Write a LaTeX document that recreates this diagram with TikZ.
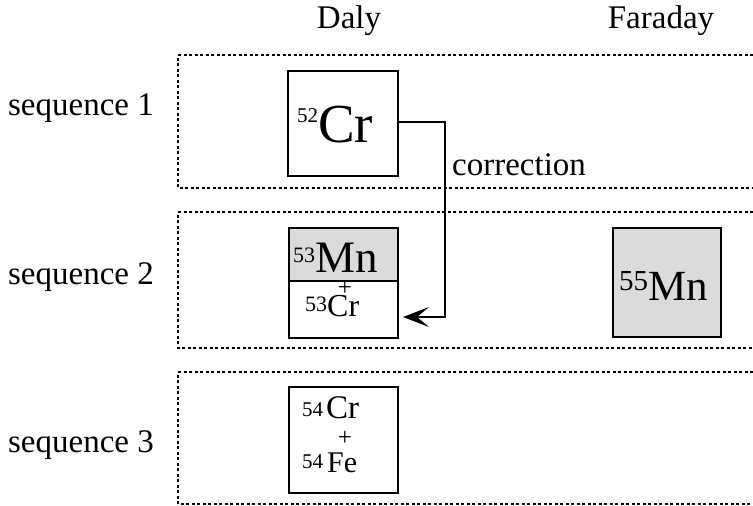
\documentclass[tikz,border=0pt]{standalone}
\usepackage{fontspec}
\setmainfont{Liberation Serif}
\usetikzlibrary{arrows.meta}
\newcommand{\iso}[4]{\raisebox{#3pt}{\fontsize{#1}{#1}\selectfont #2}\fontsize{#4}{#4}\selectfont}
\begin{document}
\begin{tikzpicture}[x=1pt,y=-1pt,
  seqbox/.style={draw, line width=1.2pt, dash pattern=on 3pt off 2.5pt},
  isobox/.style={draw, line width=2pt, inner sep=0pt, anchor=north west},
  shaded/.style={fill=black!14},
  lbl/.style={font=\fontsize{33}{36}\selectfont, inner sep=0pt, anchor=base},
  txt/.style={inner sep=0pt, anchor=base west},
  plus/.style={inner sep=0pt, font=\fontsize{25}{25}\selectfont}
]
\useasboundingbox (0,0) rectangle (753,506);
% sequence frames
\draw[seqbox] (753,55) -- (178,55) -- (178,188) -- (753,188);
\draw[seqbox] (753,212) -- (178,212) -- (178,348) -- (753,348);
\draw[seqbox] (753,372) -- (178,372) -- (178,504) -- (753,504);
% column headers
\node[lbl] (daly) at (349,28) {Daly};
\node[lbl] (faraday) at (661,28) {Faraday};
% row labels
\node[lbl] (s1) at (81,115) {sequence 1};
\node[lbl] (s2) at (81,284) {sequence 2};
\node[lbl] (s3) at (81,452) {sequence 3};
% isotope boxes
\node[isobox, minimum width=110pt, minimum height=105pt] (cr52) at (287,70) {};
\node[isobox, shaded, minimum width=109pt, minimum height=53pt] (mn53) at (288,227) {};
\node[isobox, minimum width=109pt, minimum height=57pt] (cr53) at (288,280) {};
\node[isobox, shaded, minimum width=108pt, minimum height=109pt] (mn55) at (612,227) {};
\node[isobox, minimum width=109pt, minimum height=106pt] (cr54) at (288,386) {};
% isotope texts
\node[txt] (t52cr) at (297,142) {\iso{21}{52}{20}{55}Cr};
\node[txt] (t53mn) at (293,272) {\iso{22}{53}{10}{45}Mn};
\node[plus] (plus2) at (345,288) {+};
\node[txt] (t53cr) at (305,316) {\iso{22}{53}{5}{32}Cr};
\node[txt] (t55mn) at (619,300) {\iso{29}{55}{10}{43}Mn};
\node[txt] (t54cr) at (302,418) {\iso{21}{54}{2}{33}\hspace{3pt}Cr};
\node[plus] (plus3) at (345,438) {+};
\node[txt] (t54fe) at (302,472) {\iso{21}{54}{4}{30}\hspace{4pt}Fe};
% correction connector
\coordinate (c1) at (445,122);
\coordinate (c2) at (445,317);
\coordinate (tip) at (403,317);
\draw[line width=2pt, -{Stealth[length=26pt,width=20pt,inset=12pt]}]
  (cr52.east |- c1) -- (c1) -- (c2) -- (tip);
\node[lbl, anchor=base west] (corr) at (452,175) {correction};
\end{tikzpicture}
\end{document}
